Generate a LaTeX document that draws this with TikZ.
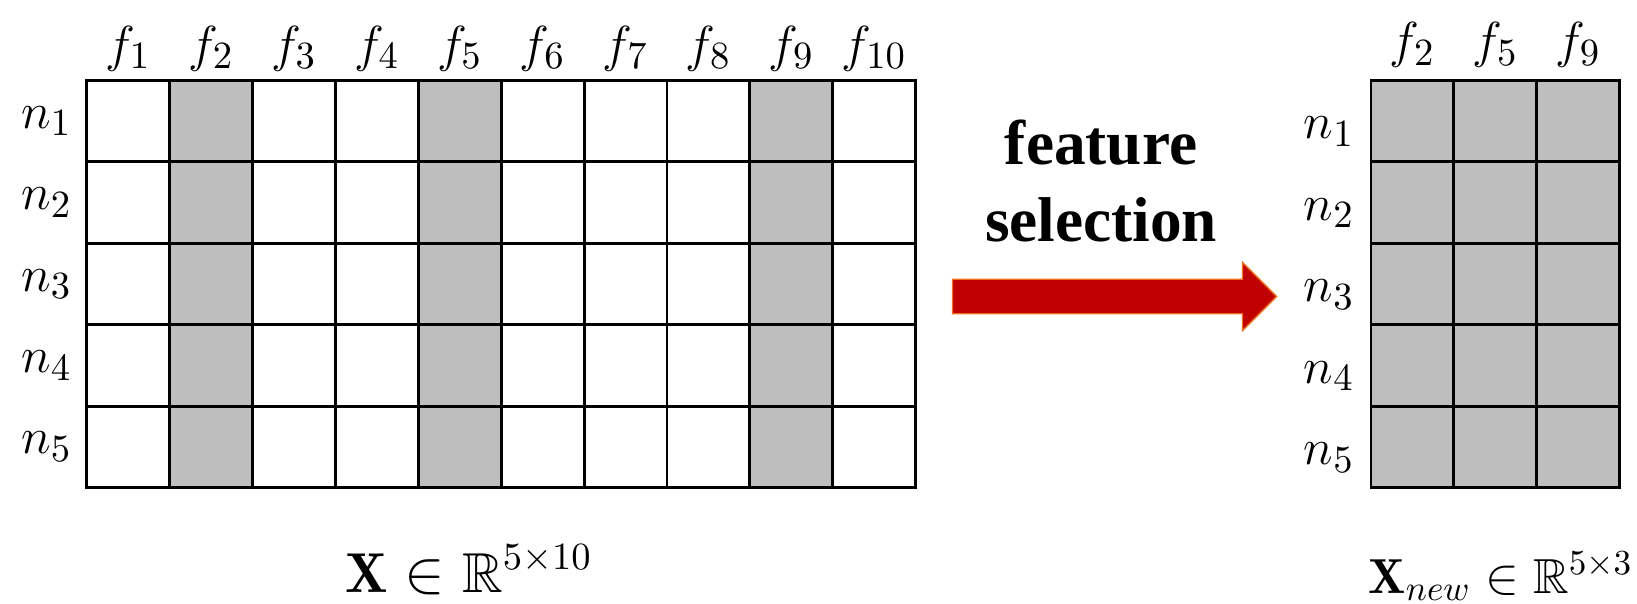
\documentclass[tikz,border=0pt]{standalone}
\usepackage{amsmath,amssymb}
\usepackage{fontspec}
\newfontfamily\headfont{Liberation Serif}
\usepackage{tikz}
\usetikzlibrary{positioning,shapes.arrows}
\definecolor{cellgray}{RGB}{190,190,190}
\definecolor{arrowred}{RGB}{192,0,0}
\definecolor{arroworange}{RGB}{240,110,30}

\begin{document}
\begin{tikzpicture}[
    x=0.01cm, y=-0.01cm,
    cell/.style={rectangle,draw,line width=0.8pt,minimum width=0.829cm,
                 minimum height=0.8144cm,inner sep=0pt,outer sep=0pt},
    selcell/.style={cell,fill=cellgray},
    lab/.style={font=\fontsize{15.5}{18}\selectfont,inner sep=0pt},
    fatarrow/.style={single arrow,draw=arroworange,line width=0.4pt,fill=arrowred,
                     minimum height=3.24cm,inner xsep=0pt,inner ysep=0.165cm,
                     single arrow head extend=0.17cm}
  ]
    \useasboundingbox (0,0) rectangle (1637,603);

    % original data matrix
    \foreach \r in {1,...,5}{
      \foreach \c in {1,3,4,6,7,8,10}
        \node[cell] (L-\r-\c) at ({86.7+(\c-0.5)*82.9},{80.4+(\r-0.5)*81.44}) {};
      \foreach \c in {2,5,9}
        \node[selcell] (L-\r-\c) at ({86.7+(\c-0.5)*82.9},{80.4+(\r-0.5)*81.44}) {};
    }
    \foreach \c in {1,...,10}
      \node[lab,above=2.5pt of L-1-\c] (f-\c) {$f_{\c}$};
    \foreach \r in {1,...,5}
      \node[lab,left=4pt of L-\r-1] (n-\r) {$n_{\r}$};
    \node[lab,font=\fontsize{16}{19}\selectfont,anchor=base] (xlab) at (469,592)
      {$\mathbf{X}\in\mathbb{R}^{5\times 10}$};

    % selected matrix
    \foreach \r in {1,...,5}
      \foreach \c in {1,2,3}
        \node[selcell] (R-\r-\c) at ({1371+(\c-0.5)*82.9},{80.4+(\r-0.5)*81.44}) {};
    \foreach \c/\f in {1/2,2/5,3/9}
      \node[lab,above=3.5pt of R-1-\c] (g-\c) {$f_{\f}$};
    \foreach \r in {1,...,5}
      \node[lab,left=4.5pt of R-\r-1,yshift=-3pt] (m-\r) {$n_{\r}$};
    \node[lab,font=\fontsize{14}{17}\selectfont,anchor=base west] (xnew) at (1368,593)
      {$\mathbf{X}_{new}\in\mathbb{R}^{5\times 3}$};

    % selection step
    \node[fatarrow] (arrow) at (1106,296.5) {};
    \node[font=\headfont\bfseries\fontsize{18}{21.9}\selectfont,align=center,inner sep=0pt]
      (sel) at (1101,181) {feature\\selection};
\end{tikzpicture}
\end{document}
